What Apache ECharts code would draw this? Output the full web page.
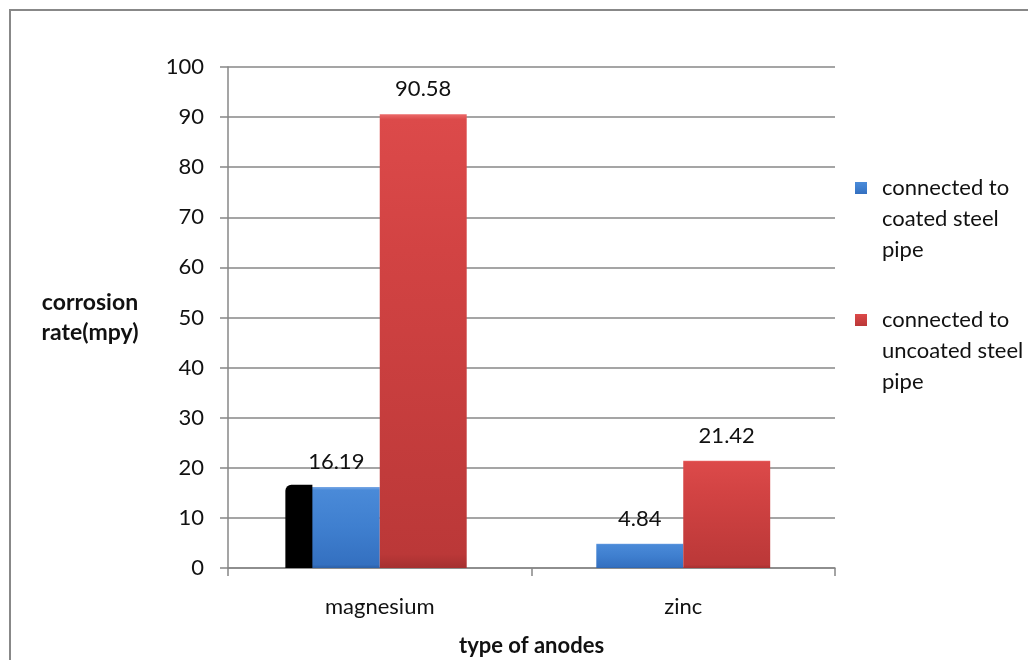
<!DOCTYPE html>
<html>
<head>
<meta charset="utf-8">
<script src="https://cdn.jsdelivr.net/npm/echarts@6/dist/echarts.min.js"></script>
<style>
html,body{margin:0;padding:0;background:#fff;}
#c{width:1028px;height:660px;}
</style>
</head>
<body>
<div id="c"></div>
<script>
const categories = ['magnesium', 'zinc'];
const coatedValues = [16.19, 4.84];
const uncoatedValues = [90.58, 21.42];
const seriesNames = ['connected to coated steel pipe', 'connected to uncoated steel pipe'];
const legendLines = [['connected to', 'coated steel', 'pipe'], ['connected to', 'uncoated steel', 'pipe']];
const blackArtifact = [['magnesium', 16.6]];
const yMin = 0, yMax = 100, yStep = 10;

const FONT = 'Lato';
const blueFill = new echarts.graphic.LinearGradient(0, 0, 0, 1, [
  {offset: 0, color: '#7aa9e6'},
  {offset: 0.04, color: '#4a8ad8'},
  {offset: 0.5, color: '#3f7fcf'},
  {offset: 0.96, color: '#3470c0'},
  {offset: 1, color: '#2c5fa6'}
]);
const redFill = new echarts.graphic.LinearGradient(0, 0, 0, 1, [
  {offset: 0, color: '#ec6a6a'},
  {offset: 0.012, color: '#dc4a4a'},
  {offset: 0.3, color: '#d24343'},
  {offset: 0.97, color: '#bb3838'},
  {offset: 1, color: '#a53030'}
]);

const chart = echarts.init(document.getElementById('c'));
const labelStyle = {show: true, position: 'top', distance: 14, fontFamily: FONT, fontSize: 22, color: '#111'};

function legendFor(i, top) {
  return {
    orient: 'vertical', left: 855, top: top, padding: 0, itemWidth: 12, itemHeight: 12,
    data: [seriesNames[i]], icon: 'rect', selectedMode: false,
    formatter: () => '\n\n' + legendLines[i].join('\n'),
    textStyle: {fontFamily: FONT, fontSize: 22, color: '#111', lineHeight: 31,
      padding: [0, 0, 0, 10]}
  };
}

chart.setOption({
  animation: false,
  backgroundColor: '#fff',
  textStyle: {fontFamily: FONT},
  graphic: [{
    type: 'rect', shape: {x: 10, y: 10, width: 1100, height: 700},
    style: {fill: 'none', stroke: '#888', lineWidth: 2}, silent: true, z: -10
  }],
  legend: [legendFor(0, 110.5), legendFor(1, 242.5)],
  grid: {left: 228, top: 67, right: 193, bottom: 92, containLabel: false, outerBoundsMode: 'none'},
  xAxis: {
    type: 'category', data: categories,
    name: 'type of anodes', nameLocation: 'middle', nameGap: 67,
    nameTextStyle: {fontFamily: FONT, fontSize: 22, fontWeight: 'bold', color: '#111'},
    axisLine: {lineStyle: {color: '#878787', width: 1.5}},
    axisTick: {show: true, length: 8, alignWithLabel: false, lineStyle: {color: '#878787', width: 1.5}},
    axisLabel: {fontFamily: FONT, fontSize: 22, color: '#111', margin: 28}
  },
  yAxis: {
    type: 'value', min: yMin, max: yMax, interval: yStep,
    name: 'corrosion\nrate(mpy)', nameLocation: 'middle', nameGap: 138, nameRotate: 0,
    nameTextStyle: {fontFamily: FONT, fontSize: 23, fontWeight: 'bold', color: '#111',
      lineHeight: 30, align: 'center', verticalAlign: 'middle', padding: [6, 0, 0, 0]},
    axisLine: {show: true, lineStyle: {color: '#878787', width: 1.5}},
    axisTick: {show: true, length: 8, lineStyle: {color: '#878787', width: 1.5}},
    axisLabel: {fontFamily: FONT, fontSize: 22, color: '#111', margin: 24},
    splitLine: {lineStyle: {color: '#878787', width: 1.5}}
  },
  series: [
    {
      name: seriesNames[0], type: 'bar', data: coatedValues,
      barGap: '0%', barCategoryGap: '42.7%',
      itemStyle: {color: blueFill},
      label: labelStyle, z: 2
    },
    {
      name: seriesNames[1], type: 'bar', data: uncoatedValues,
      itemStyle: {color: redFill},
      label: labelStyle, z: 2
    },
    {
      name: 'artifact', type: 'custom', data: blackArtifact, z: 3,
      renderItem: function (params, api) {
        const top = api.coord([api.value(0), api.value(1)]);
        const base = api.coord([api.value(0), 0]);
        const band = api.size([1, 0])[0];
        const x0 = top[0] - band * 0.311;
        const x1 = top[0] - band * 0.222;
        return {
          type: 'rect',
          shape: {x: x0, y: top[1], width: x1 - x0, height: base[1] - top[1], r: [6, 0, 0, 0]},
          style: {fill: '#000'}
        };
      }
    }
  ]
});
</script>
</body>
</html>
